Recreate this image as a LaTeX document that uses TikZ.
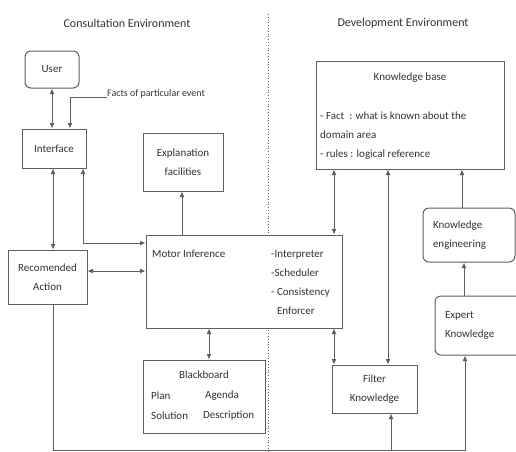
\documentclass[tikz,border=0pt]{standalone}
\usepackage{fontspec}
\setmainfont{Carlito}
\usetikzlibrary{arrows.meta}
\definecolor{ln}{HTML}{5E5E5E}
\definecolor{tx}{HTML}{333333}
\begin{document}
\begin{tikzpicture}[x=1pt,y=-1pt,
  every node/.style={text=tx, font=\fontsize{11}{19}\selectfont},
  title/.style={font=\fontsize{12}{14}\selectfont},
  box/.style={draw=ln, fill=white, line width=1pt, inner sep=0pt, align=center},
  rbox/.style={box, rounded corners=6pt},
  con/.style={draw=ln, line width=1pt},
  tip/.style={-{Latex[length=5.5pt,width=5pt]}},
  both/.style={{Latex[length=5.5pt,width=5pt]}-{Latex[length=5.5pt,width=5pt]}},
]
\useasboundingbox[fill=white] (0,0) rectangle (516,451);

% titles and divider
\node[title] (tc) at (127,23) {Consultation Environment};
\node[title] (td) at (403,23) {Development Environment};
\coordinate (dtop) at (268,14);
\coordinate (dbot) at (268,451);
\draw[ln, dotted, line width=0.8pt] (dtop) -- (dbot);

% boxes
\node[rbox, minimum width=54pt, minimum height=37pt] (user) at (52,69.5) {User};
\node[box, minimum width=64pt, minimum height=39pt] (iface) at (54,148.5) {Interface};
\node[box, minimum width=80pt, minimum height=58pt] (expl) at (183,162) {Explanation\\facilities};
\node[box, minimum width=79pt, minimum height=54pt] (rec) at (47.5,277) {Recomended\\Action};
\node[box, minimum width=196pt, minimum height=93pt] (motor) at (244,281.5) {};
\node[anchor=west, inner sep=0pt] (mlbl) at (152,254) {Motor Inference};
\node[anchor=west, align=left, inner sep=0pt] (mlist) at (271,282) {-Interpreter\\-Scheduler\\- Consistency\\\hphantom{- }Enforcer};

\node[box, minimum width=122pt, minimum height=73pt] (bb) at (204,396.5) {};
\node (bbt) at (204,375) {Blackboard};
\node[anchor=west, inner sep=0pt] (bb1) at (151,396) {Plan};
\node[anchor=west, inner sep=0pt] (bb2) at (205,396) {Agenda};
\node[anchor=west, inner sep=0pt] (bb3) at (151,416) {Solution};
\node[anchor=west, inner sep=0pt] (bb4) at (203,416) {Description};

\node[box, minimum width=188pt, minimum height=108pt] (kb) at (410,115) {};
\node (kbt) at (410,78) {Knowledge base};
\node[anchor=west, align=left, inner sep=0pt] (kbl) at (320,136) {- Fact\ \ : what is known about the\\domain area\\- rules : logical reference};

\node[rbox, minimum width=92pt, minimum height=54pt, text width=72pt, inner xsep=10pt, align=left] (ke) at (469,235) {Knowledge\\engineering};
\node[rbox, minimum width=90pt, minimum height=59pt, text width=70pt, inner xsep=10pt, align=left] (ex) at (480,325.5) {Expert\\Knowledge};
\node[box, minimum width=85pt, minimum height=48pt] (filt) at (374.5,389) {Filter\\Knowledge};

% helper columns / rows
\coordinate (fcol) at (70,0);
\coordinate (fx) at (107,97);
\node[anchor=west, inner sep=0pt, font=\fontsize{10}{12}\selectfont] (facts) at (107,94) {Facts of particular event};
\coordinate (c53) at (53,0);
\coordinate (c83) at (83,243);
\coordinate (r271) at (0,271);
\coordinate (c182) at (182,0);
\coordinate (c209) at (209,0);
\coordinate (c334) at (334,0);
\coordinate (c388) at (388,0);
\coordinate (c391) at (391,0);
\coordinate (c462) at (462,0);
\coordinate (c464) at (464,0);
\coordinate (c465) at (465,0);
\coordinate (bot) at (0,450);

% connectors
\draw[con,both] (user.south) -- (user.south |- iface.north);
\draw[con,tip] (fx) -| (fcol |- iface.north);
\draw[con,both] (c53 |- iface.south) -- (c53 |- rec.north);
\draw[con,both] (c83 |- iface.south) |- (motor.west |- c83);
\draw[con,both] (rec.east |- r271) -- (motor.west |- r271);
\draw[con,tip] (c182 |- motor.north) -- (c182 |- expl.south);
\draw[con,both] (c209 |- motor.south) -- (c209 |- bb.north);
\draw[con,both] (c334 |- kb.south) -- (c334 |- motor.north);
\draw[con,both] (c334 |- motor.south) -- (c334 |- filt.north);
\draw[con,both] (c388 |- kb.south) -- (c388 |- filt.north);
\draw[con,tip] (c462 |- ke.north) -- (c462 |- kb.south);
\draw[con,tip] (c464 |- ex.north) -- (c464 |- ke.south);
\draw[con,tip] (c53 |- rec.south) |- (c465 |- bot) -- (c465 |- ex.south);
\draw[con,tip] (c391 |- bot) -- (c391 |- filt.south);
\end{tikzpicture}
\end{document}
